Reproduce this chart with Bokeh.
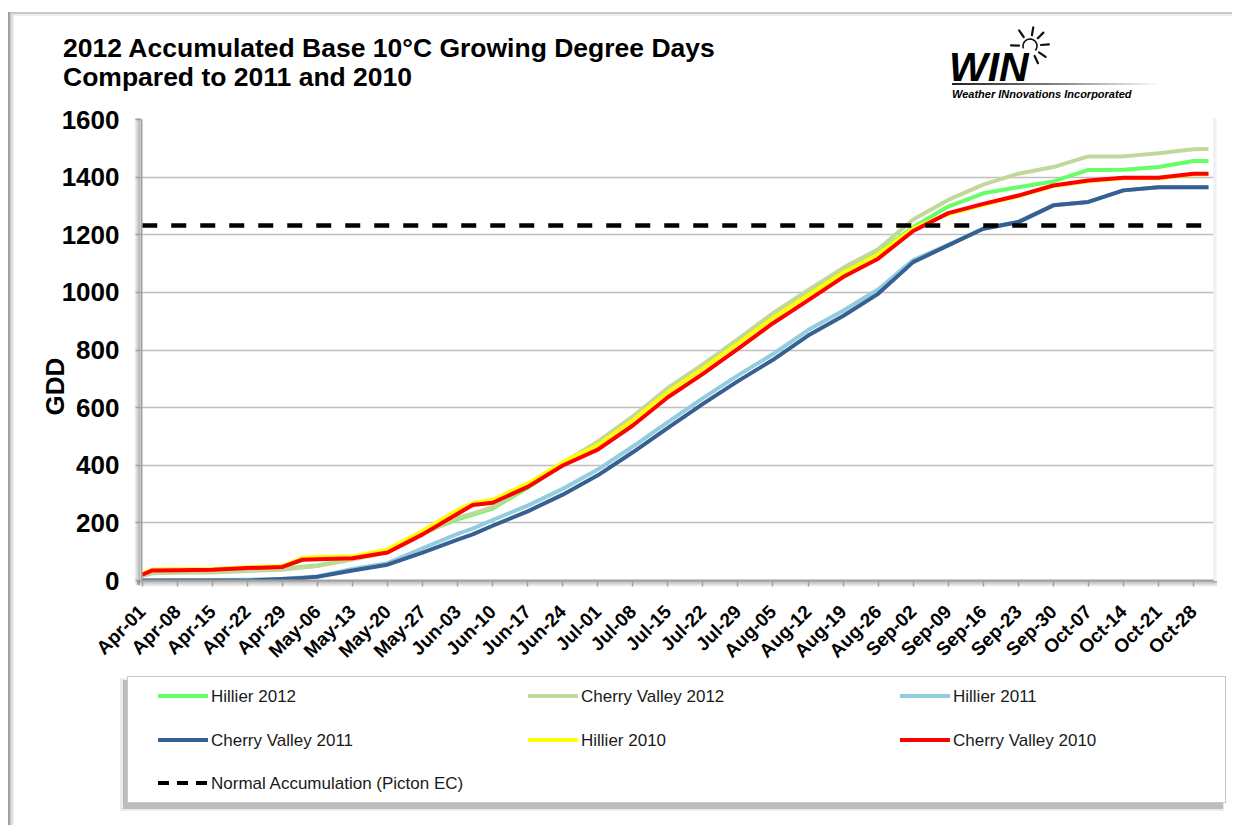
import math
import pandas as pd
from bokeh.plotting import figure
from bokeh.layouts import column
from bokeh.models import (Range1d, FixedTicker, DatetimeTickFormatter, ColumnDataSource, Div,
                          Title)
from bokeh.embed import file_html
from bokeh.resources import INLINE

# ---------------- data ----------------
year = 2012
sample_days = ["Apr-01", "Apr-03", "Apr-08", "Apr-15", "Apr-22", "Apr-29", "May-03", "May-06",
               "May-13", "May-20", "May-27", "Jun-03", "Jun-06", "Jun-10", "Jun-17", "Jun-24",
               "Jul-01", "Jul-08", "Jul-15", "Jul-22", "Jul-29", "Aug-05", "Aug-12", "Aug-19",
               "Aug-26", "Sep-02", "Sep-09", "Sep-16", "Sep-23", "Sep-30", "Oct-07", "Oct-14",
               "Oct-21", "Oct-28", "Oct-31"]

hillier_2012 = [18, 28, 30, 31, 36, 40, 48, 52, 75, 100, 165, 212, 228, 250, 322, 402, 468, 560,
                658, 740, 828, 917, 996, 1074, 1138, 1226, 1298, 1344, 1365, 1385, 1425, 1426,
                1435, 1456, 1456]
cherry_valley_2012 = [15, 25, 27, 28, 33, 37, 45, 50, 73, 98, 160, 218, 232, 255, 327, 408, 482,
                      570, 668, 750, 838, 928, 1008, 1085, 1150, 1253, 1321, 1374, 1412, 1435,
                      1472, 1472, 1483, 1497, 1498]
hillier_2011 = [0, 0, 1, 2, 3, 6, 10, 14, 40, 60, 112, 162, 180, 210, 260, 318, 385, 465, 550,
                633, 712, 786, 869, 936, 1010, 1112, 1165, 1221, 1244, 1302, 1314, 1354, 1365,
                1365, 1365]
cherry_valley_2011 = [0, 0, 0, 0, 0, 5, 9, 13, 35, 55, 97, 142, 160, 190, 240, 298, 365, 445,
                      530, 613, 692, 766, 850, 918, 995, 1105, 1163, 1221, 1244, 1302, 1314,
                      1354, 1365, 1365, 1365]
hillier_2010 = [24, 38, 39, 40, 46, 50, 78, 82, 83, 108, 172, 245, 268, 280, 336, 410, 470, 556,
                654, 735, 822, 911, 990, 1068, 1132, 1222, 1272, 1304, 1334, 1369, 1386, 1396,
                1396, 1410, 1410]
cherry_valley_2010 = [20, 35, 36, 37, 43, 47, 72, 74, 77, 97, 160, 232, 262, 270, 325, 399, 454,
                      538, 636, 717, 804, 893, 972, 1053, 1117, 1213, 1275, 1307, 1336, 1371,
                      1388, 1398, 1398, 1412, 1412]
normal_gdd = 1232

series_names = ["Hillier 2012", "Cherry Valley 2012", "Hillier 2011",
                "Cherry Valley 2011", "Hillier 2010", "Cherry Valley 2010"]
series_colors = ["#66FF66", "#C4D79B", "#93CDDD", "#376092", "#FFFF00", "#FF0000"]
normal_name = "Normal Accumulation (Picton EC)"

tick_labels = ["Apr-01", "Apr-08", "Apr-15", "Apr-22", "Apr-29", "May-06", "May-13", "May-20",
               "May-27", "Jun-03", "Jun-10", "Jun-17", "Jun-24", "Jul-01", "Jul-08", "Jul-15",
               "Jul-22", "Jul-29", "Aug-05", "Aug-12", "Aug-19", "Aug-26", "Sep-02", "Sep-09",
               "Sep-16", "Sep-23", "Sep-30", "Oct-07", "Oct-14", "Oct-21", "Oct-28"]
y_ticks = [0, 200, 400, 600, 800, 1000, 1200, 1400, 1600]
y_label = "GDD"
title_lines = ["2012 Accumulated Base 10\u00b0C Growing Degree Days", "Compared to 2011 and 2010"]
logo_text = "WIN"
logo_sub = "Weather INnovations Incorporated"

# ---------------- layout constants (page pixels) ----------------
FONT = "Liberation Sans"
W = 1232
HEAD_H = 100                 # header strip: page y 0..100
FIG_BOTTOM = 675             # figure strip: page y 100..675, legend strip below
LEG_H = 150
FIG_H = FIG_BOTTOM - HEAD_H
FR_L, FR_T, FR_R, FR_B = 141, 119, 1213, 580     # plot frame

def rect_div(x, y, w, h, bg):
    return (f'<div style="position:absolute;left:{x}px;top:{y}px;width:{w}px;height:{h}px;'
            f'background:{bg};"></div>')

def text_div(x, baseline, size, txt, weight="bold", style="normal", color="#000"):
    top = baseline - round(size * 0.8465)
    return (f'<div style="position:absolute;left:{x}px;top:{top}px;font-size:{size}px;'
            f'line-height:{size}px;font-weight:{weight};font-style:{style};color:{color};'
            f'white-space:nowrap;">{txt}</div>')

def frame_left(h):
    return (rect_div(8, 0, 2, h, "#A0A0A0") +
            rect_div(10, 0, 4, h, "linear-gradient(to right,#C8C8C8,#F4F4F4)"))

def strip(h, inner):
    return (f'<div style="position:relative;width:{W}px;height:{h}px;background:white;'
            f"font-family:'{FONT}',Arial,sans-serif;color:#000;overflow:hidden;\">"
            + inner + '</div>')

# ---------------- header (title + logo) ----------------
cx, cy = 30, 26      # sun centre inside its svg box (box placed at 1000, 20)
svg = ['<svg width="62" height="56" style="position:absolute;left:1000px;top:20px;" '
       'xmlns="http://www.w3.org/2000/svg">']
arc_pts = [(cx + 7 * math.cos(math.radians(a)), cy - 7 * math.sin(math.radians(a)))
           for a in range(200, -45, -15)]
svg.append('<polyline fill="none" stroke="#111" stroke-width="1.6" points="' +
           " ".join(f"{x:.1f},{y:.1f}" for x, y in arc_pts) + '"/>')
for ang in [178, 125, 80, 45, 5, -35, -65]:
    a = math.radians(ang)
    svg.append(f'<line x1="{cx + 11 * math.cos(a):.1f}" y1="{cy - 11 * math.sin(a):.1f}" '
               f'x2="{cx + 19 * math.cos(a):.1f}" y2="{cy - 19 * math.sin(a):.1f}" '
               'stroke="#111" stroke-width="2.2" stroke-linecap="round"/>')
svg.append('</svg>')

head_inner = (
    rect_div(8, 12, 2, HEAD_H - 12, "#A0A0A0")
    + rect_div(10, 12, 4, HEAD_H - 12, "linear-gradient(to right,#C8C8C8,#F4F4F4)")
    + rect_div(10, 12, W - 10, 2, "#C8C8C8")
    + rect_div(14, 14, W - 14, 2, "#EEEEEE")
    + text_div(63, 57, 26.5, title_lines[0])
    + text_div(63, 86, 26.5, title_lines[1])
    + text_div(949, 82, 41, logo_text, style="italic")
    + rect_div(952, 83, 208, 2, "linear-gradient(to right,#222,#777 45%,#fff)")
    + text_div(952, 98, 11, logo_sub, style="italic")
    + "".join(svg))
header = Div(text=strip(HEAD_H, head_inner), width=W, height=HEAD_H, margin=0)

# ---------------- legend strip (page y 675..825) ----------------
L0 = FIG_BOTTOM
row_y = [696, 740, 783]
col_x = [158, 528, 900]
leg_inner = frame_left(LEG_H)
leg_inner += rect_div(120, 678 - L0, 1104, 133, "rgba(0,0,0,0.08)")      # soft shadow
leg_inner += rect_div(123, 680 - L0, 1100, 129, "rgba(0,0,0,0.20)")      # shadow
leg_inner += rect_div(127, 676 - L0, 1099, 127, "#C8C8C8")               # border
leg_inner += rect_div(128, 677 - L0, 1097, 125, "#FFFFFF")               # box
entries = list(zip(series_names, series_colors)) + [(normal_name, None)]
for i, (name, color) in enumerate(entries):
    x, y = col_x[i % 3], row_y[i // 3] - L0
    if color is None:
        for k in range(3):
            leg_inner += rect_div(x + 19 * k, y - 2, 11, 4, "#000000")
    else:
        leg_inner += rect_div(x, y - 2, 50, 4, color)
    leg_inner += text_div(x + 53, y + 6, 17, name, weight="normal", color="#1A1A1A")
legend_div = Div(text=strip(LEG_H, leg_inner), width=W, height=LEG_H, margin=0)

# ---------------- main figure ----------------
def to_dt(labels):
    return pd.to_datetime([f"{year}-{t}" for t in labels], format="%Y-%b-%d")

dates = to_dt(sample_days)
tick_ms = [float(t.value // 10**6) for t in to_dt(tick_labels)]
day_ms = 86400000.0
x0 = tick_ms[0] - 0.15 * day_ms
x1 = tick_ms[0] + 214.0 * day_ms

src = ColumnDataSource(dict(date=dates, h12=hillier_2012, cv12=cherry_valley_2012,
                            h11=hillier_2011, cv11=cherry_valley_2011,
                            h10=hillier_2010, cv10=cherry_valley_2010))

layers = []
def css_rect(x, y, w, h, img):
    if not img.startswith("linear-gradient"):
        img = f"linear-gradient({img},{img})"
    layers.append((img, f"{x}px {y - HEAD_H}px", f"{w}px {h}px"))

css_rect(134, FR_T - 1, 6, FR_B - FR_T + 6,
         "linear-gradient(to right,rgba(0,0,0,0),rgba(0,0,0,0.30))")   # plot-left shadow
css_rect(137, FR_B + 1, 1080, 6,
         "linear-gradient(to bottom,rgba(0,0,0,0.30),rgba(0,0,0,0))")  # plot-bottom shadow
css_rect(FR_R, FR_T - 1, 5, FR_B - FR_T + 4,
         "linear-gradient(to right,rgba(0,0,0,0.10),rgba(0,0,0,0))")   # plot-right edge
css_rect(8, HEAD_H, 2, FIG_H, "#A0A0A0")                               # outer frame, left
css_rect(10, HEAD_H, 4, FIG_H, "linear-gradient(to right,#C8C8C8,#F4F4F4)")

fig_styles = {
    "background-color": "white",
    "background-image": ", ".join(l[0] for l in layers),
    "background-position": ", ".join(l[1] for l in layers),
    "background-size": ", ".join(l[2] for l in layers),
    "background-repeat": "no-repeat",
}

p = figure(width=W, height=FIG_H, x_axis_type="datetime", output_backend="svg",
           toolbar_location=None, x_range=Range1d(x0, x1), y_range=Range1d(0, 1600),
           min_border_left=FR_L, min_border_right=W - FR_R,
           min_border_top=FR_T - HEAD_H, min_border_bottom=FIG_H - (FR_B - HEAD_H),
           styles=fig_styles, margin=0)
p.title.visible = False
p.outline_line_color = None
p.background_fill_color = "white"
p.border_fill_alpha = 0

p.yaxis.ticker = FixedTicker(ticks=y_ticks)
p.ygrid.ticker = FixedTicker(ticks=y_ticks)
p.xaxis.ticker = FixedTicker(ticks=tick_ms)
fmt = "%b-%d"
p.xaxis.formatter = DatetimeTickFormatter(days=fmt, months=fmt, years=fmt, hours=fmt,
                                          hourmin=fmt, minutes=fmt, minsec=fmt, seconds=fmt,
                                          milliseconds=fmt, microseconds=fmt)
for ax in (p.xaxis, p.yaxis):
    ax.axis_line_color = "#A0A0A0"
    ax.axis_line_width = 2
    ax.major_tick_line_color = "#A0A0A0"
    ax.major_tick_line_width = 1.5
    ax.major_tick_in = 0
    ax.major_tick_out = 6
    ax.minor_tick_line_color = None
    ax.major_label_text_font = FONT
    ax.major_label_text_font_style = "bold"
    ax.major_label_text_color = "#000000"
p.yaxis.major_label_text_font_size = "26px"
p.yaxis.major_label_standoff = 16
p.xaxis.major_label_text_font_size = "19px"
p.xaxis.major_label_orientation = math.pi / 4
p.xaxis.major_label_standoff = 22
p.xgrid.grid_line_color = None
p.ygrid.grid_line_color = "#BFBFBF"
p.ygrid.grid_line_width = 1.5

# value-axis title, sitting low on the axis as in the reference
p.add_layout(Title(text=y_label, align="left", offset=FR_B - 415, standoff=-23,
                   text_font=FONT, text_font_size="26px", text_font_style="bold",
                   text_color="#000000"), "left")

cols = ["h12", "cv12", "h11", "cv11", "h10", "cv10"]
for c, color in zip(cols, series_colors):
    p.line("date", c, source=src, line_color=color, line_width=4, line_join="round")
p.line(x=[dates[0], dates[-1]], y=[normal_gdd, normal_gdd], line_color="black",
       line_width=4.5, line_dash="15 14")

layout = column(header, p, legend_div, spacing=0, margin=0)
open("out.html", "w").write(file_html(layout, INLINE))
